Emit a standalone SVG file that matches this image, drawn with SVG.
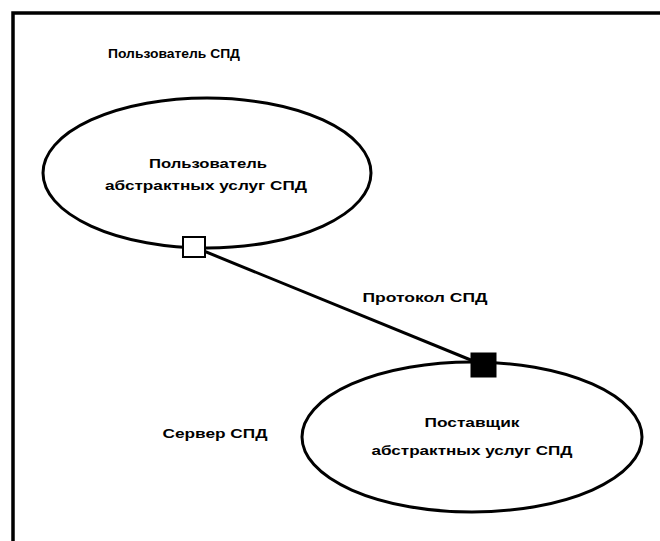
<svg xmlns="http://www.w3.org/2000/svg" width="660" height="541" viewBox="0 0 660 541">
<style>
.t{font-family:"Liberation Sans",Arial,sans-serif;font-size:13px;font-weight:bold;fill:#000;text-anchor:middle;dominant-baseline:central}
.e{fill:none;stroke:#000;stroke-width:3}
</style>
<rect x="0" y="0" width="660" height="541" fill="#fff"/>
<rect x="13" y="13" width="680" height="560" fill="none" stroke="#000" stroke-width="3.5"/>
<text class="t" x="174" y="53" textLength="132" lengthAdjust="spacingAndGlyphs">Пользователь СПД</text>
<text class="t" x="215" y="433" textLength="105" lengthAdjust="spacingAndGlyphs">Сервер СПД</text>
<g id="connectors">
<line x1="194" y1="247" x2="483" y2="365" stroke="#000" stroke-width="3"/>
<text class="t" x="425" y="297" textLength="125" lengthAdjust="spacingAndGlyphs">Протокол СПД</text>
</g>
<g id="user">
<ellipse class="e" cx="207" cy="173" rx="164" ry="75"/>
<text class="t" x="208" y="163" textLength="118" lengthAdjust="spacingAndGlyphs">Пользователь</text>
<text class="t" x="206" y="185" textLength="202" lengthAdjust="spacingAndGlyphs">абстрактных услуг СПД</text>
<rect x="183" y="237" width="22" height="20" fill="#fff" stroke="#000" stroke-width="2"/>
</g>
<g id="provider">
<ellipse class="e" cx="472" cy="437" rx="170" ry="75"/>
<text class="t" x="472" y="422" textLength="95" lengthAdjust="spacingAndGlyphs">Поставщик</text>
<text class="t" x="472" y="450" textLength="201" lengthAdjust="spacingAndGlyphs">абстрактных услуг СПД</text>
<rect x="471" y="353" width="25" height="24" fill="#000" stroke="#000" stroke-width="1"/>
</g>
</svg>
